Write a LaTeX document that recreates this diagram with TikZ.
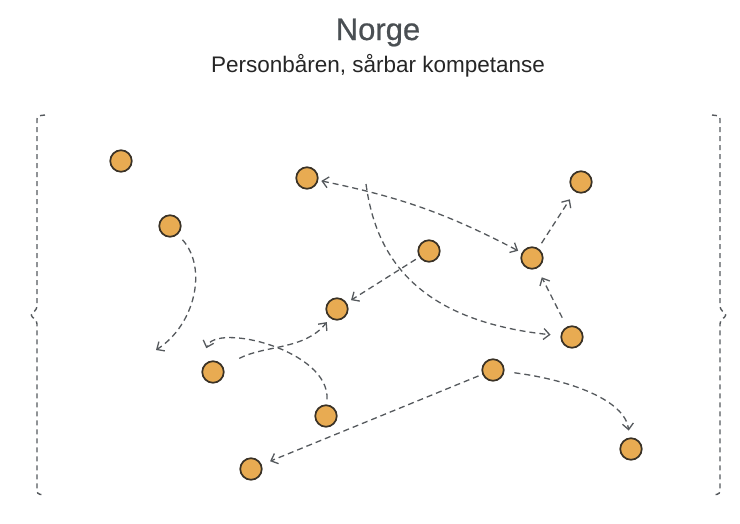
\documentclass[tikz,border=0pt]{standalone}
\usepackage{fontspec}
\setmainfont{Liberation Sans}
\newfontfamily\titlefont{Liberation Sans}[BoldFont=*,BoldFeatures={FakeBold=0.7}]
\usetikzlibrary{arrows.meta}
\definecolor{dotfill}{HTML}{E8AB52}
\definecolor{dotline}{HTML}{3A3226}
\definecolor{linkgrey}{HTML}{55595D}
\definecolor{titlegrey}{HTML}{4A4F53}

\begin{document}
\begin{tikzpicture}[x=1pt,y=-1pt,>={Straight Barb[length=6pt,width=11pt]},
    person/.style={circle,draw=dotline,fill=dotfill,line width=1.7pt,
    minimum size=21.5pt,inner sep=0pt},
    link/.style={draw=linkgrey,line width=1.3pt,dash pattern=on 6pt off 4pt,
    ->,shorten >=5pt,shorten <=5pt},
    bracket/.style={draw=linkgrey,line width=1.4pt,
    dash pattern=on 5pt off 4pt,rounded corners=3pt}]
            \useasboundingbox (0,0) rectangle (740,523);

            \node[font=\titlefont\bfseries\fontsize{31}{37}\selectfont,text=titlegrey,
            anchor=base] (title) at (378,40) {Norge};
            \node[font=\fontsize{22.5}{27}\selectfont,text=black!85,
            anchor=base] (subtitle) at (378,72) {Personbåren, sårbar kompetanse};

            \draw (121,161) node[person] (A) {};
            \draw (170,226) node[person] (B) {};
            \draw (307,178) node[person] (C) {};
            \draw (429,251) node[person] (D) {};
            \draw (532,258) node[person] (E) {};
            \draw (581,182) node[person] (F) {};
            \draw (337,309) node[person] (G) {};
            \draw (572,337) node[person] (H) {};
            \draw (213,372) node[person] (I) {};
            \draw (493,370) node[person] (J) {};
            \draw (326,416) node[person] (K) {};
            \draw (251,469) node[person] (L) {};
            \draw (631,449) node[person] (M) {};

            \coordinate (hookB) at (156,350);
            \coordinate (hookK) at (205,352);
            \coordinate (fork) at (366,184);

            \draw[link,shorten <=7pt,shorten >=0pt] (B) .. controls (208,268)
            and (195,325) .. (hookB);
            \draw[link,shorten >=4pt] (K) .. controls (330,350) and (215,322) .. (hookK);
            \draw[link,shorten <=18pt] (I) .. controls (265,345) and (305,350) .. (G);
            \draw[link,<->,shorten <=3pt,shorten >=4pt] (C) to[bend left=8] (E);
            \draw[link,shorten <=0pt,shorten >=10pt] (fork) .. controls (375,250)
            and (410,320) .. (H);
            \draw[link,shorten <=4pt] (D) -- (G);
            \draw[link,shorten <=6pt,shorten >=9pt] (E) -- (F);
            \draw[link,shorten <=10pt,shorten >=10pt] (H) -- (E);
            \draw[link,shorten <=4pt,shorten >=9pt] (J) -- (L);
            \draw[link,shorten <=10pt,shorten >=7pt] (J) .. controls (570,380)
            and (625,400) .. (M);

            \draw[bracket] (45,115) -- (37,116) -- (37,309) -- (30,315)
            -- (37,321) -- (37,494) -- (45,495);
            \draw[bracket] (712,115) -- (720,116) -- (720,309) -- (727,315)
            -- (720,321) -- (720,494) -- (712,495);
\end{tikzpicture}
\end{document}
